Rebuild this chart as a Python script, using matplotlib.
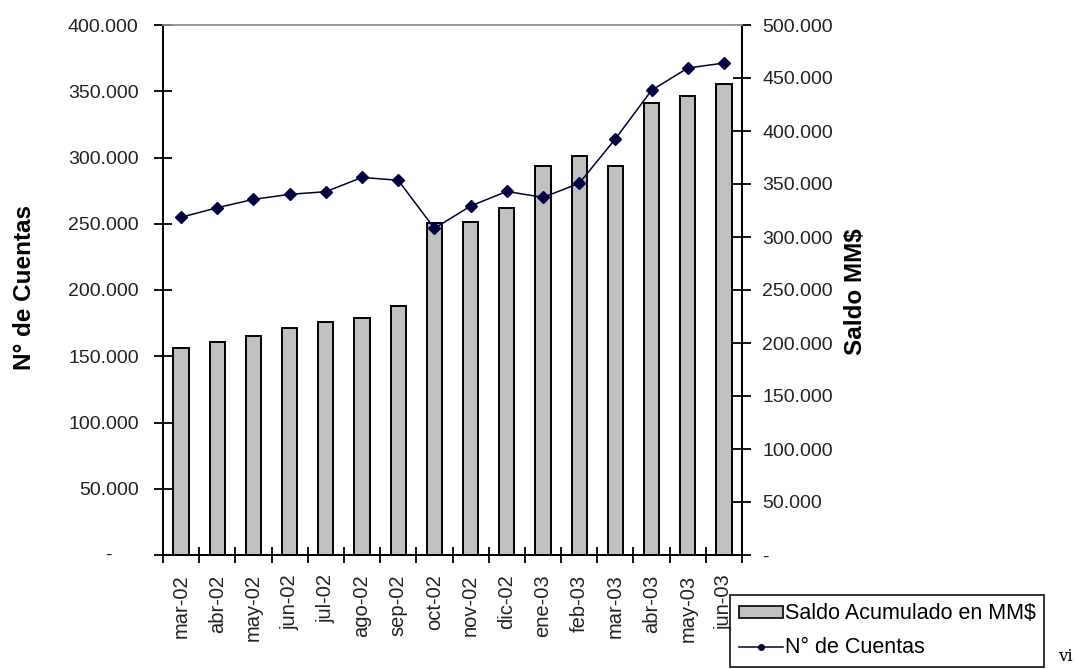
import matplotlib.pyplot as plt
from matplotlib.lines import Line2D
from matplotlib.patches import Patch
from matplotlib.ticker import FuncFormatter, FixedLocator
from matplotlib.transforms import blended_transform_factory
import numpy as np

plt.rcParams["font.family"] = ["Liberation Sans", "DejaVu Sans"]

# Monthly series
meses = ["mar-02", "abr-02", "may-02", "jun-02", "jul-02", "ago-02", "sep-02", "oct-02",
         "nov-02", "dic-02", "ene-03", "feb-03", "mar-03", "abr-03", "may-03", "jun-03"]
saldo = [195000, 200700, 206600, 213900, 219500, 223300, 234600, 313200,
         314500, 327700, 367000, 376700, 367000, 426100, 433300, 444300]
cuentas = [254900, 262100, 268400, 272200, 274200, 285000, 282800, 246500,
           263400, 274400, 269900, 280500, 314000, 350700, 367500, 371300]
ticks_cuentas = [0, 50000, 100000, 150000, 200000, 250000, 300000, 350000, 400000]
ticks_saldo = [0, 50000, 100000, 150000, 200000, 250000, 300000, 350000, 400000, 450000, 500000]

TXT = "#222222"


def miles(v, pos=None):
    if v == 0:
        return "-"
    return f"{v:,.0f}".replace(",", ".")


def miles_izq(v, pos=None):
    # zero is written separately, shifted like an accounting format
    if v == 0:
        return ""
    return miles(v)


fig = plt.figure(figsize=(10.78, 6.69), dpi=100)
ax = fig.add_axes([163 / 1078, 1 - 555 / 669, 579 / 1078, 530 / 669])
ax2 = ax.twinx()

x = np.arange(len(meses))

# bars on the right (Saldo) axis, line on the left (Cuentas) axis drawn above them
ax2.bar(x, saldo, width=0.42, color="#c0c0c0", edgecolor="black", linewidth=1.4)
ax.plot(x, cuentas, color="#000033", linewidth=1.1, marker="D", markersize=6.5,
        markerfacecolor="#000040", markeredgecolor="#000040")
ax.set_zorder(ax2.get_zorder() + 1)
ax.patch.set_visible(False)

ax.set_xlim(-0.5, len(meses) - 0.5)
ax.set_ylim(0, 400000)
ax2.set_ylim(0, 500000)

ax.yaxis.set_major_locator(FixedLocator(ticks_cuentas))
ax2.yaxis.set_major_locator(FixedLocator(ticks_saldo))
ax.yaxis.set_major_formatter(FuncFormatter(miles_izq))
ax2.yaxis.set_major_formatter(FuncFormatter(miles))

ax.set_xticks(x)
ax.set_xticklabels(meses, rotation=90, fontsize=14.5, color=TXT)
ax.set_xticks(np.arange(len(meses) + 1) - 0.5, minor=True)
ax.tick_params(axis="x", which="major", length=0, pad=14)
ax.tick_params(axis="x", which="minor", direction="inout", length=12, width=1.3)

ax.tick_params(axis="y", direction="inout", length=13, width=1.3, labelsize=14,
               labelcolor=TXT, pad=11)
ax2.tick_params(axis="y", direction="inout", length=13, width=1.3, labelsize=14,
                labelcolor=TXT, pad=8)

trans = blended_transform_factory(ax.transAxes, ax.transData)
ax.text(-0.095, 0, "-", transform=trans, fontsize=14, color=TXT, ha="center", va="center")

for a in (ax, ax2):
    a.spines["top"].set_color("#999999")
    a.spines["top"].set_linewidth(1.2)
    for s in ("left", "right", "bottom"):
        a.spines[s].set_linewidth(1.4)

fig.text(25 / 1078, 1 - 288 / 669, "N° de Cuentas", rotation=90, fontsize=17.5,
         fontweight="bold", ha="center", va="center")
fig.text(856 / 1078, 1 - 292 / 669, "Saldo MM$", rotation=90, fontsize=17.5,
         fontweight="bold", ha="center", va="center")

handles = [
    Patch(facecolor="#c0c0c0", edgecolor="black", linewidth=1.2),
    Line2D([0], [0], color="#000033", linewidth=1.1, marker="o", markersize=4,
           markerfacecolor="#000040"),
]
leg = fig.legend(handles, ["Saldo Acumulado en MM$", "N° de Cuentas"],
                 loc="lower left", bbox_to_anchor=(730 / 1078, 2 / 669),
                 fontsize=15.5, frameon=True, fancybox=False, borderpad=0.4,
                 handlelength=2.05, handleheight=0.5, handletextpad=0.1,
                 labelspacing=0.6, borderaxespad=0)
leg.get_frame().set_edgecolor("black")
leg.get_frame().set_linewidth(1.4)

fig.text(1058 / 1078, 4 / 669, "vi", fontsize=12, family="serif", va="bottom")

fig.savefig("out.png", dpi=100)
